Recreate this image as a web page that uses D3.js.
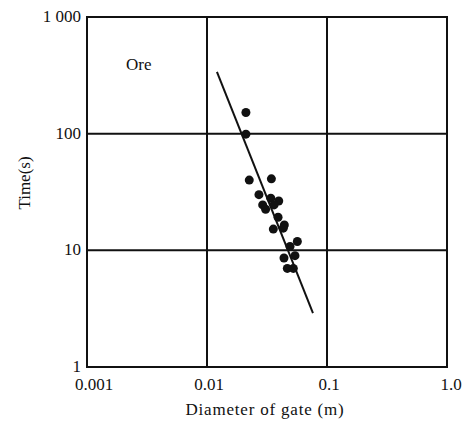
<!DOCTYPE html>
<html>
<head>
<meta charset="utf-8">
<script src="https://cdn.jsdelivr.net/npm/d3@7"></script>
<style>
  body { margin: 0; background: #fff; }
</style>
</head>
<body>
<svg id="chart" width="470" height="438" font-family="'Liberation Serif', 'DejaVu Serif', serif"></svg>
<script>
// data
const diameter = [0.0211, 0.0211, 0.0225, 0.0344, 0.0271, 0.0340, 0.0396, 0.0291, 0.0308, 0.0362,
                  0.0391, 0.0441, 0.0357, 0.0432, 0.0566, 0.0492, 0.0541, 0.0438, 0.0467, 0.0524];
const time = [152, 99, 40, 41, 30, 28, 26.5, 24.5, 22.5, 24.5,
              19.2, 16.5, 15.2, 15.5, 11.9, 10.8, 9.0, 8.6, 7.0, 7.0];
const fitX = [0.0121, 0.0764];
const fitY = [338, 2.9];
const xTicks = [0.001, 0.01, 0.1, 1];
const xTickLabels = ["0.001", "0.01", "0.1", "1.0"];
const yTicks = [1, 10, 100, 1000];
const yTickLabels = ["1", "10", "100", "1 000"];

const plotLeft = 87, plotRight = 447, plotTop = 17, plotBottom = 367;
const svg = d3.select("#chart");

const x = d3.scaleLog().domain([0.001, 1]).range([plotLeft, plotRight]);
const y = d3.scaleLog().domain([1, 1000]).range([plotBottom, plotTop]);

// grid
const grid = svg.append("g").attr("stroke", "#111").attr("stroke-width", 2);
grid.selectAll("line.gx").data(xTicks.slice(1, -1)).join("line")
    .attr("x1", d => x(d)).attr("x2", d => x(d))
    .attr("y1", plotTop).attr("y2", plotBottom);
grid.selectAll("line.gy").data(yTicks.slice(1, -1)).join("line")
    .attr("y1", d => y(d)).attr("y2", d => y(d))
    .attr("x1", plotLeft).attr("x2", plotRight);
svg.append("rect")
    .attr("x", plotLeft).attr("y", plotTop)
    .attr("width", plotRight - plotLeft).attr("height", plotBottom - plotTop)
    .attr("fill", "none").attr("stroke", "#111").attr("stroke-width", 2);

// tick labels
svg.append("g").selectAll("text").data(xTicks).join("text")
    .attr("x", (d, i) => x(d) + (i == 0 ? 7 : i == 3 ? 4 : 2))
    .attr("y", 390)
    .attr("text-anchor", "middle")
    .attr("font-size", 17)
    .attr("fill", "#111")
    .text((d, i) => xTickLabels[i]);

svg.append("g").selectAll("text").data(yTicks).join("text")
    .attr("x", plotLeft - 6)
    .attr("y", d => y(d) + 5)
    .attr("text-anchor", "end")
    .attr("font-size", 17)
    .attr("fill", "#111")
    .text((d, i) => yTickLabels[i]);

// axis titles
svg.append("text")
    .attr("x", 265).attr("y", 415)
    .attr("text-anchor", "middle")
    .attr("font-size", 17)
    .attr("letter-spacing", 0.8)
    .attr("fill", "#111")
    .text("Diameter of gate (m)");

svg.append("text")
    .attr("transform", `translate(30, 183) rotate(-90)`)
    .attr("text-anchor", "middle")
    .attr("font-size", 17)
    .attr("fill", "#111")
    .text("Time(s)");

svg.append("text")
    .attr("x", 126).attr("y", 70)
    .attr("font-size", 17)
    .attr("fill", "#111")
    .text("Ore");

// fitted line
svg.append("line")
    .attr("x1", x(fitX[0])).attr("y1", y(fitY[0]))
    .attr("x2", x(fitX[1])).attr("y2", y(fitY[1]))
    .attr("stroke", "#111").attr("stroke-width", 2);

// points
svg.append("g").selectAll("circle").data(diameter).join("circle")
    .attr("cx", d => x(d))
    .attr("cy", (d, i) => y(time[i]))
    .attr("r", 4.5)
    .attr("fill", "#111");
</script>
</body>
</html>
